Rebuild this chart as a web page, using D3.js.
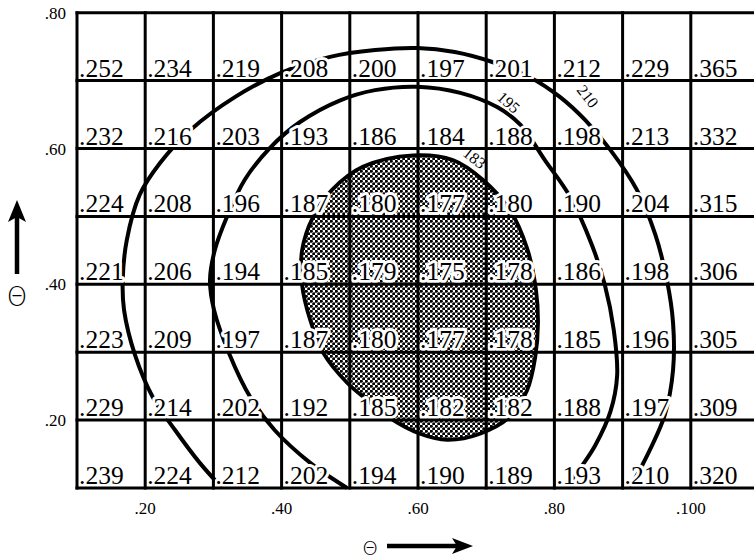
<!DOCTYPE html>
<html lang="en">
<head>
<meta charset="utf-8">
<title>Theta grid</title>
<script src="https://d3js.org/d3.v7.min.js"></script>
<style>
  body { margin: 0; background: #fff; }
  svg { display: block; font-family: "Liberation Serif", "Times New Roman", serif; }
</style>
</head>
<body>
<div id="container"></div>
<script>
var w = 754, h = 560;

// grid: columns start at theta_x, rows start (top) at theta_y
var colStart = [0.10, 0.20, 0.30, 0.40, 0.50, 0.60, 0.70, 0.80, 0.90, 1.00];
var rowTop = [0.80, 0.70, 0.60, 0.50, 0.40, 0.30, 0.20];

// cell values, top row first
var cellValues = [
  [0.252, 0.234, 0.219, 0.208, 0.200, 0.197, 0.201, 0.212, 0.229, 0.365],
  [0.232, 0.216, 0.203, 0.193, 0.186, 0.184, 0.188, 0.198, 0.213, 0.332],
  [0.224, 0.208, 0.196, 0.187, 0.180, 0.177, 0.180, 0.190, 0.204, 0.315],
  [0.221, 0.206, 0.194, 0.185, 0.179, 0.175, 0.178, 0.186, 0.198, 0.306],
  [0.223, 0.209, 0.197, 0.187, 0.180, 0.177, 0.178, 0.185, 0.196, 0.305],
  [0.229, 0.214, 0.202, 0.192, 0.185, 0.182, 0.182, 0.188, 0.197, 0.309],
  [0.239, 0.224, 0.212, 0.202, 0.194, 0.190, 0.189, 0.193, 0.210, 0.320]
];

var xTicks = [0.2, 0.4, 0.6, 0.8, 1.0];
var xTickLabels = [".20", ".40", ".60", ".80", ".100"];
var yTicks = [0.2, 0.4, 0.6, 0.8];
var yTickLabels = [".20", ".40", ".60", ".80"];

// contour lines, [theta_x, theta_y]
var contour183 = [
  [0.593, 0.590], [0.651, 0.583], [0.695, 0.554], [0.735, 0.509], [0.760, 0.453],
  [0.773, 0.392], [0.776, 0.343], [0.772, 0.293], [0.760, 0.244], [0.735, 0.205],
  [0.691, 0.180], [0.643, 0.171], [0.603, 0.180], [0.559, 0.203], [0.525, 0.230],
  [0.496, 0.255], [0.461, 0.299], [0.442, 0.347], [0.430, 0.399], [0.430, 0.450],
  [0.446, 0.499], [0.474, 0.539], [0.519, 0.573]
];
var contour195 = [
  [0.496, 0.100], [0.442, 0.137], [0.390, 0.185], [0.354, 0.234], [0.324, 0.296],
  [0.301, 0.362], [0.295, 0.406], [0.302, 0.450], [0.321, 0.502], [0.346, 0.554],
  [0.383, 0.601], [0.427, 0.639], [0.486, 0.671], [0.537, 0.686], [0.599, 0.691],
  [0.662, 0.682], [0.716, 0.661], [0.750, 0.635], [0.786, 0.583], [0.823, 0.529],
  [0.855, 0.458], [0.874, 0.399], [0.887, 0.333], [0.892, 0.266], [0.882, 0.212],
  [0.860, 0.163], [0.838, 0.129], [0.818, 0.100]
];
var contour210 = [
  [0.313, 0.100], [0.280, 0.137], [0.244, 0.185], [0.211, 0.234], [0.185, 0.296],
  [0.169, 0.362], [0.167, 0.406], [0.173, 0.465], [0.192, 0.532], [0.222, 0.579],
  [0.266, 0.627], [0.332, 0.676], [0.398, 0.711], [0.471, 0.735], [0.537, 0.745],
  [0.599, 0.748], [0.654, 0.742], [0.710, 0.727], [0.764, 0.705], [0.808, 0.676],
  [0.845, 0.642], [0.882, 0.598], [0.921, 0.539], [0.948, 0.473], [0.965, 0.406],
  [0.974, 0.343], [0.974, 0.274], [0.962, 0.208], [0.940, 0.156], [0.911, 0.100]
];
var contourLabels = [
  { text: "183", at: [0.683, 0.586], angle: 38 },
  { text: "195", at: [0.733, 0.668], angle: 42 },
  { text: "210", at: [0.849, 0.677], angle: 52 }
];

var svg = d3.select("#container").append("svg")
  .attr("width", w).attr("height", h)
  .attr("viewBox", "0 0 " + w + " " + h);

var x = d3.scaleLinear().domain([0.1, 1.1]).range([77, 759]);
var y = d3.scaleLinear().domain([0.1, 0.8]).range([488, 12.7]);

// stipple texture for the innermost region
var pat = svg.append("defs").append("pattern")
  .attr("id", "stipple").attr("patternUnits", "userSpaceOnUse")
  .attr("width", 5).attr("height", 5);
pat.append("circle").attr("cx", 1.25).attr("cy", 1.25).attr("r", 1.6).attr("fill", "#000");
pat.append("circle").attr("cx", 3.75).attr("cy", 3.75).attr("r", 1.6).attr("fill", "#000");

var line = d3.line().x(function(d) { return x(d[0]); }).y(function(d) { return y(d[1]); });

svg.append("path")
  .attr("d", line.curve(d3.curveCatmullRomClosed)(contour183))
  .attr("fill", "url(#stipple)")
  .attr("stroke", "#000").attr("stroke-width", 3.8);

line.curve(d3.curveCatmullRom);
svg.selectAll("path.contour")
  .data([contour195, contour210])
  .enter().append("path")
  .attr("class", "contour")
  .attr("d", line)
  .attr("fill", "none")
  .attr("stroke", "#000").attr("stroke-width", 4);

// cell values; the white halo breaks the contours like in the original
var fmt = function(v) { return d3.format(".3f")(v).replace(/^0/, ""); };
var cells = [];
cellValues.forEach(function(row, i) {
  row.forEach(function(v, j) { cells.push({ v: v, cx: colStart[j], ry: rowTop[i] }); });
});
svg.selectAll("text.cell")
  .data(cells)
  .enter().append("text")
  .attr("class", "cell")
  .attr("x", function(d) { return x(d.cx) + 2; })
  .attr("y", function(d) { return y(d.ry - 0.1) - 4; })
  .attr("font-size", 25.5)
  .attr("fill", "#000")
  .attr("stroke", "#fff").attr("stroke-width", 6)
  .attr("stroke-linejoin", "round")
  .attr("paint-order", "stroke")
  .text(function(d) { return fmt(d.v); });

svg.selectAll("text.clabel")
  .data(contourLabels)
  .enter().append("text")
  .attr("class", "clabel")
  .attr("transform", function(d) {
    return "translate(" + x(d.at[0]) + "," + y(d.at[1]) + ") rotate(" + d.angle + ")";
  })
  .attr("text-anchor", "middle")
  .attr("dominant-baseline", "central")
  .attr("font-size", 16)
  .attr("fill", "#000")
  .attr("stroke", "#fff").attr("stroke-width", 3)
  .attr("paint-order", "stroke")
  .text(function(d) { return d.text; });

// grid lines
var xEdges = colStart.concat([1.1]);
var yEdges = rowTop.concat([0.1]);
var grid = svg.append("g").attr("stroke", "#000").attr("stroke-width", 3);
grid.selectAll("line.v").data(xEdges).enter().append("line")
  .attr("x1", function(d) { return x(d); }).attr("x2", function(d) { return x(d); })
  .attr("y1", y(0.8) - 1.5).attr("y2", y(0.1) + 1.5);
grid.selectAll("line.h").data(yEdges).enter().append("line")
  .attr("y1", function(d) { return y(d); }).attr("y2", function(d) { return y(d); })
  .attr("x1", x(0.1) - 1.5).attr("x2", x(1.1));

// tick labels
svg.selectAll("text.xt").data(xTicks).enter().append("text")
  .attr("x", function(d) { return x(d); })
  .attr("y", y(0.1) + 26)
  .attr("text-anchor", "middle")
  .attr("font-size", 17)
  .text(function(d, i) { return xTickLabels[i]; });
svg.selectAll("text.yt").data(yTicks).enter().append("text")
  .attr("x", x(0.1) - 11)
  .attr("y", function(d) { return y(d) + 6; })
  .attr("text-anchor", "end")
  .attr("font-size", 17)
  .text(function(d, i) { return yTickLabels[i]; });

// axis titles with arrows
svg.append("text")
  .attr("x", 17).attr("y", 306)
  .attr("text-anchor", "middle")
  .attr("font-family", "DejaVu Sans").attr("font-size", 26)
  .attr("font-weight", 300)
  .attr("fill", "#000")
  .text("Θ");
svg.append("line").attr("x1", 17).attr("x2", 17).attr("y1", 274).attr("y2", 216)
  .attr("stroke", "#000").attr("stroke-width", 4.5);
svg.append("path").attr("d", "M17,200 L26,222 L17,217 L8,222 Z").attr("fill", "#000");

svg.append("text")
  .attr("x", 370).attr("y", 555)
  .attr("text-anchor", "middle")
  .attr("font-family", "DejaVu Sans").attr("font-size", 20)
  .attr("font-weight", 300)
  .attr("fill", "#000")
  .text("Θ");
svg.append("line").attr("x1", 387).attr("x2", 460).attr("y1", 546).attr("y2", 546)
  .attr("stroke", "#000").attr("stroke-width", 4.5);
svg.append("path").attr("d", "M473,546 L452,538 L457,546 L452,554 Z").attr("fill", "#000");
</script>
</body>
</html>
